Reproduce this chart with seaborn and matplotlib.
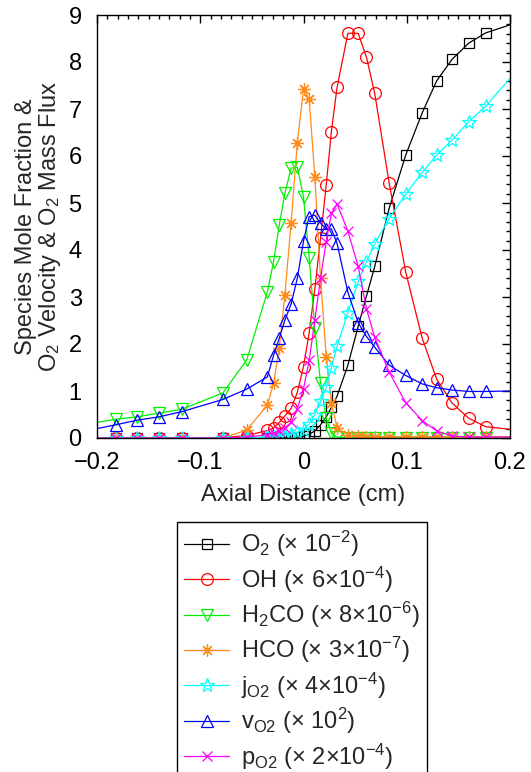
import matplotlib
matplotlib.use("Agg")
import matplotlib.pyplot as plt
from matplotlib.lines import Line2D
from matplotlib.ticker import MultipleLocator, FixedLocator, FixedFormatter
import seaborn as sns

sns.set_style("white")
plt.rcParams["font.family"] = ["Liberation Sans", "DejaVu Sans"]
plt.rcParams["mathtext.fontset"] = "custom"
plt.rcParams["mathtext.rm"] = "Liberation Sans"
plt.rcParams["mathtext.it"] = "Liberation Sans:italic"
plt.rcParams["mathtext.bf"] = "Liberation Sans:bold"

# Axial grid of the flame solution (cm)
axial = [-0.2, -0.182, -0.161, -0.140, -0.118, -0.078, -0.055, -0.035, -0.029,
         -0.0235, -0.018, -0.012, -0.006, 0.0, 0.0055, 0.011, 0.0165, 0.022,
         0.027, 0.0325, 0.043, 0.053, 0.061, 0.069, 0.083, 0.099, 0.115, 0.129,
         0.144, 0.160, 0.1765, 0.2]

# Scaled profiles
o2 = [0, 0, 0, 0, 0, 0, 0, 0, 0, 0, 0, 0.01, 0.02, 0.04, 0.08, 0.15, 0.28,
      0.45, 0.65, 0.89, 1.55, 2.38, 3.02, 3.65, 4.89, 6.02, 6.92, 7.6, 8.06,
      8.4, 8.62, 8.79]
oh = [0, 0, 0, 0, 0, 0.01, 0.05, 0.16, 0.21, 0.33, 0.47, 0.63, 0.97, 1.52,
      2.24, 3.18, 4.25, 5.38, 6.52, 7.46, 8.61, 8.61, 8.1, 7.33, 5.42, 3.53,
      2.12, 1.25, 0.74, 0.42, 0.24, 0.185]
h2co = [0.33, 0.40, 0.45, 0.53, 0.61, 0.96, 1.66, 3.11, 3.75, 4.53, 5.21, 5.74,
        5.76, 5.13, 3.83, 2.33, 1.18, 0.42, 0.10, 0.02, 0, 0, 0, 0, 0, 0, 0, 0,
        0, 0, 0, 0]
hco = [0, 0, 0, 0, 0, 0, 0.17, 0.70, 1.16, 1.91, 3.05, 4.58, 6.28, 7.42, 7.21,
       5.55, 3.40, 1.73, 0.75, 0.22, 0.06, 0.04, 0.03, 0.03, 0.03, 0.03, 0.03,
       0.03, 0.03, 0.03, 0.03, 0.03]
j_o2 = [0, 0, 0, 0, 0, 0, 0, 0.02, 0.03, 0.04, 0.06, 0.08, 0.12, 0.18, 0.30,
        0.50, 0.78, 1.08, 1.50, 1.95, 2.67, 3.33, 3.75, 4.13, 4.67, 5.19, 5.65,
        6.02, 6.34, 6.73, 7.06, 7.65]
v_o2 = [0.20, 0.28, 0.38, 0.45, 0.56, 0.82, 1.04, 1.30, 1.76, 2.12, 2.51, 2.85,
        3.40, 4.19, 4.71, 4.74, 4.57, 4.45, 4.45, 4.14, 3.10, 2.45, 2.16, 1.93,
        1.55, 1.33, 1.15, 1.07, 1.02, 0.99, 0.99, 1.00]
p_o2 = [0, 0, 0, 0, 0, 0, 0.02, 0.07, 0.10, 0.15, 0.22, 0.33, 0.62, 1.05, 1.65,
        2.51, 3.40, 4.18, 4.78, 4.98, 4.40, 3.65, 2.75, 2.14, 1.40, 0.75, 0.37,
        0.15, 0.04, 0.02, 0.02, 0.02]

series_labels = [
    r"O$_2$ ($\times$ 10$^{-2}$)",
    r"OH ($\times$ 6$\times$10$^{-4}$)",
    r"H$_2$CO ($\times$ 8$\times$10$^{-6}$)",
    r"HCO ($\times$ 3$\times$10$^{-7}$)",
    r"j$_{\mathregular{O2}}$ ($\times$ 4$\times$10$^{-4}$)",
    r"v$_{\mathregular{O2}}$ ($\times$ 10$^{2}$)",
    r"p$_{\mathregular{O2}}$ ($\times$ 2$\times$10$^{-4}$)",
]
xtick_values = [-0.2, -0.1, 0.0, 0.1, 0.2]
xtick_labels = ["\u22120.2", "\u22120.1", "0", "0.1", "0.2"]

styles = [
    (o2, "black", "s", 7.0),
    (oh, "#ff0000", "o", 8.5),
    (h2co, "#00f000", "v", 9.0),
    (hco, "#ff8c1a", (8, 2, 0), 9.0),
    (j_o2, "#00ffff", "*", 10.0),
    (v_o2, "#0000ff", "^", 9.0),
    (p_o2, "#ff00ff", "x", 6.5),
]

fig = plt.figure(figsize=(5.31, 7.72), dpi=100)
ax = fig.add_axes([97 / 531, 1 - 438 / 772, 413 / 531, 423 / 772])

handles = []
for (vals, color, marker, ms), label in zip(styles, series_labels):
    sns.lineplot(x=axial, y=vals, ax=ax, color=color, marker=marker,
                 markersize=ms, markerfacecolor="none", markeredgecolor=color,
                 markeredgewidth=0.9, linewidth=0.9, markevery=slice(1, -1),
                 sort=False, estimator=None, legend=False)
    handles.append(Line2D([], [], color=color, marker=marker, markersize=ms,
                          markerfacecolor="none", markeredgecolor=color,
                          markeredgewidth=0.9, linewidth=0.9, label=label))

if ax.get_legend() is not None:
    ax.get_legend().remove()

ax.set_xlim(-0.2, 0.2)
ax.set_ylim(0, 9)
ax.xaxis.set_major_locator(FixedLocator(xtick_values))
ax.xaxis.set_major_formatter(FixedFormatter(xtick_labels))
ax.xaxis.set_minor_locator(MultipleLocator(0.01))
ax.yaxis.set_major_locator(MultipleLocator(1))
ax.yaxis.set_minor_locator(MultipleLocator(0.2))
ax.tick_params(which="both", direction="in", top=True, right=True,
               width=1.0, colors="black", labelsize=17)
ax.tick_params(axis="x", which="major", length=6, pad=10)
ax.tick_params(axis="y", which="major", length=6, pad=11)
ax.tick_params(which="minor", length=3)
for sp in ax.spines.values():
    sp.set_color("black")
    sp.set_linewidth(1.0)

ax.set_xlabel("Axial Distance (cm)", fontsize=17, labelpad=7)
ax.set_ylabel("Species Mole Fraction &\n"
              r"O$_\mathregular{2}$ Velocity & O$_\mathregular{2}$ Mass Flux",
              fontsize=17, labelpad=4, linespacing=1.0)

fig.legend(handles=handles, loc="upper left",
           bbox_to_anchor=(177 / 531, 1 - 522 / 772),
           bbox_transform=fig.transFigure, frameon=True, fancybox=False,
           edgecolor="black", framealpha=1, fontsize=17, handlelength=1.9,
           handletextpad=0.5, labelspacing=0.22, borderpad=0.3,
           borderaxespad=0)

fig.savefig("out.png", dpi=100, facecolor="white")
